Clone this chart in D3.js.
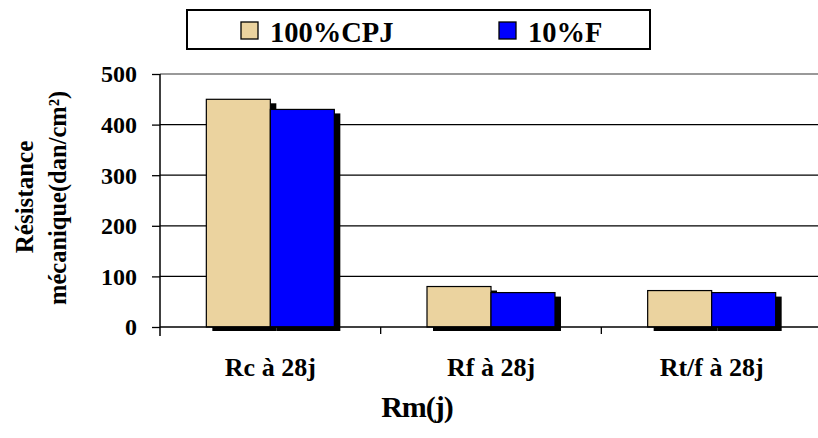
<!DOCTYPE html>
<html>
<head>
<meta charset="utf-8">
<script src="https://cdn.jsdelivr.net/npm/d3@7"></script>
<style>
  body { margin: 0; background: #fff; }
  text { font-family: "Liberation Serif", "Times New Roman", serif; font-weight: bold; }
</style>
</head>
<body>
<svg id="chart" width="818" height="438"></svg>
<script>
const categories = ["Rc à 28j", "Rf à 28j", "Rt/f à 28j"];
const seriesNames = ["100%CPJ", "10%F"];
const cpj = [450, 80, 72];
const f10 = [430, 68, 68];
const yTicks = [0, 100, 200, 300, 400, 500];
const colors = ["#EBD39F", "#0000FF"];

const svg = d3.select("#chart");
const plotLeft = 160, plotRight = 822, plotTop = 74, plotBottom = 327;

const x0 = d3.scaleBand().domain(categories).range([plotLeft, plotRight]).paddingInner(0).paddingOuter(0);
const x1 = d3.scaleBand().domain(seriesNames).range([0, 128]);
const y = d3.scaleLinear().domain([0, 500]).range([plotBottom, plotTop]);
const groupOffset = (x0.bandwidth() - 128) / 2;

// gridlines
svg.append("g").selectAll("line")
  .data(yTicks.filter(d => d > 0))
  .enter().append("line")
  .attr("x1", plotLeft).attr("x2", 818)
  .attr("y1", d => y(d)).attr("y2", d => y(d))
  .attr("stroke", d => d === 500 ? "#777" : "#000")
  .attr("stroke-width", 1.3);

// bars with shadows
const rows = categories.map((c, i) => ({ cat: c, vals: [cpj[i], f10[i]] }));
rows.forEach(r => {
  r.vals.forEach((v, j) => {
    const bx = x0(r.cat) + groupOffset + x1(seriesNames[j]);
    svg.append("rect")
      .attr("x", bx + 6).attr("y", y(v) + 4)
      .attr("width", x1.bandwidth()).attr("height", y(0) - y(v))
      .attr("fill", "#000");
    svg.append("rect")
      .attr("x", bx).attr("y", y(v))
      .attr("width", x1.bandwidth()).attr("height", y(0) - y(v))
      .attr("fill", colors[j])
      .attr("stroke", "#000").attr("stroke-width", 1.2);
  });
});

// x axis line
svg.append("line")
  .attr("x1", plotLeft).attr("x2", 818)
  .attr("y1", plotBottom).attr("y2", plotBottom)
  .attr("stroke", "#000").attr("stroke-width", 1.5);

// category tick marks
svg.append("g").selectAll("line")
  .data(categories.slice(1))
  .enter().append("line")
  .attr("x1", d => x0(d)).attr("x2", d => x0(d))
  .attr("y1", plotBottom).attr("y2", plotBottom + 7)
  .attr("stroke", "#000").attr("stroke-width", 1.3);

// y axis
const yAxis = svg.append("g")
  .attr("transform", `translate(${plotLeft},0)`)
  .call(d3.axisLeft(y).tickValues(yTicks).tickSize(8).tickPadding(15));
yAxis.select(".domain").attr("d", `M0,${plotTop}V${plotBottom + 9}`).attr("stroke-width", 1.5);
yAxis.selectAll(".tick line").attr("stroke-width", 1.3);
yAxis.selectAll(".tick text")
  .attr("font-size", 24).attr("font-family", null).attr("fill", "#000")
  .attr("dy", "0.33em");
yAxis.attr("font-family", null).attr("font-size", null);

// category labels
svg.append("g").selectAll("text")
  .data(categories)
  .enter().append("text")
  .attr("x", d => x0(d) + x0.bandwidth() / 2)
  .attr("y", 376)
  .attr("text-anchor", "middle")
  .attr("font-size", 26)
  .text(d => d);

// x title
svg.append("text")
  .attr("x", 417).attr("y", 417)
  .attr("text-anchor", "middle")
  .attr("font-size", 30)
  .attr("letter-spacing", -1)
  .text("Rm(j)");

// y title (second line is cut off at the top, like the original)
svg.append("defs").append("clipPath").attr("id", "ytclip")
  .append("rect").attr("x", 0).attr("y", 89).attr("width", 100).attr("height", 300);
const yt = svg.append("g").attr("clip-path", "url(#ytclip)");
yt.append("text")
  .attr("transform", "translate(33,197) rotate(-90)")
  .attr("text-anchor", "middle").attr("font-size", 25)
  .text("Résistance");
yt.append("text")
  .attr("transform", "translate(66,305) rotate(-90)")
  .attr("text-anchor", "start").attr("font-size", 24.5)
  .text("mécanique(dan/cm²)");

// legend
const lg = svg.append("g");
lg.append("rect")
  .attr("x", 187).attr("y", 10).attr("width", 463).attr("height", 39)
  .attr("fill", "#fff").attr("stroke", "#000").attr("stroke-width", 2);
const legendX = [241, 499];
seriesNames.forEach((s, i) => {
  lg.append("rect")
    .attr("x", legendX[i]).attr("y", 22).attr("width", 17).attr("height", 17)
    .attr("fill", colors[i]).attr("stroke", "#000").attr("stroke-width", 1.3);
  lg.append("text")
    .attr("x", legendX[i] + 29).attr("y", 42)
    .attr("font-size", 28.5)
    .text(s);
});
</script>
</body>
</html>
